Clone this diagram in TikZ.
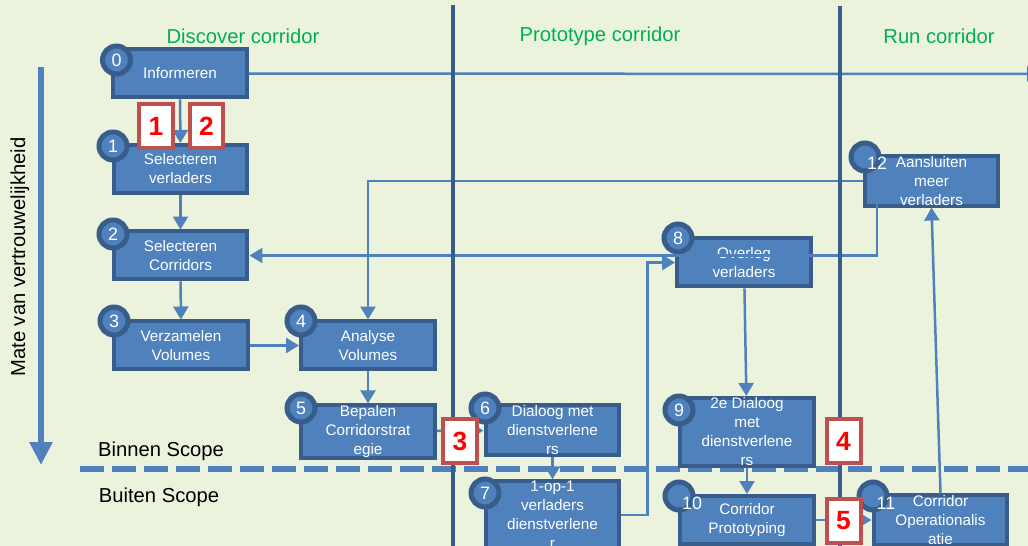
\documentclass[tikz,border=0pt]{standalone}
\usepackage{fontspec}
\setmainfont{Liberation Sans}
\usetikzlibrary{arrows.meta}

\definecolor{paper}{RGB}{235,243,220}
\definecolor{boxblue}{RGB}{79,129,189}
\definecolor{boxedge}{RGB}{56,93,138}
\definecolor{phasegreen}{RGB}{0,176,80}
\definecolor{flagred}{RGB}{192,80,77}

\tikzstyle{task} = [rectangle,fill=boxblue,draw=boxedge,line width=0.08cm,minimum width=2.68cm,minimum height=0.96cm,inner sep=0pt,text=white,align=center,font=\fontsize{8.7}{10.8}\selectfont]
\tikzstyle{badge} = [circle,fill=boxblue,draw=boxedge,line width=0.1cm,minimum size=0.56cm,inner sep=0pt,text=white,font=\fontsize{10.2}{12}\selectfont]
\tikzstyle{badgenum} = [inner sep=0pt,text=white,font=\fontsize{10.2}{12}\selectfont]
\tikzstyle{flag} = [rectangle,fill=white,draw=flagred,line width=0.08cm,minimum width=0.68cm,minimum height=0.88cm,inner sep=0pt,text=red,font=\fontsize{15}{15}\selectfont\bfseries]
\tikzstyle{flow} = [draw=boxblue,line width=0.05cm,-{Triangle[width=0.3cm,length=0.26cm]}]
\tikzstyle{phase} = [text=phasegreen,font=\fontsize{11.5}{14}\selectfont]
\tikzstyle{plain} = [font=\fontsize{11.5}{14}\selectfont]
\tikzstyle{divider} = [draw=boxedge,line width=0.09cm]

\begin{document}
\begin{tikzpicture}[x=0.02cm,y=-0.02cm]
	\useasboundingbox (0,0) rectangle (1028,546);
	\clip (0,0) rectangle (1028,546);
	\fill[paper] (0,0) rectangle (1028,546);
	% trust axis
	\coordinate (axtop) at (41,67);
	\coordinate (axbot) at (41,465);
	\draw[boxblue,line width=0.14cm,-{Triangle[width=0.44cm,length=0.46cm]}] (axtop) -- (axbot);
	\node[plain,rotate=90] (axis) at (20,257) {Mate van vertrouwelijkheid};
	% scope line
	\coordinate (scl) at (80,469);
	\coordinate (scr) at (1028,469);
	\draw[boxblue,line width=0.12cm,dash pattern=on 0.48cm off 0.16cm] (scl) -- (scr);
	\node[plain] (inside) at (161,451) {Binnen Scope};
	\node[plain] (outside) at (159,497) {Buiten Scope};
	% steps
	\node[task] (s0) at (180,73.5) {Informeren};
	\node[task] (s1) at (180.5,169) {Selecteren\\verladers};
	\node[task] (s2) at (180.5,255.5) {Selecteren\\Corridors};
	\node[task] (s3) at (181,345.5) {Verzamelen\\Volumes};
	\node[task] (s4) at (368,345.5) {Analyse\\Volumes};
	\node[task] (s5) at (368,431.5) {Bepalen\\Corridorstrat\\egie};
	\node[task] (s6) at (552.5,430) {Dialoog met\\dienstverlene\\rs};
	\node[task] (s7) at (552.5,515) {1-op-1\\verladers\\dienstverlene\\r};
	\node[task] (s8) at (744,262.5) {Overleg\\verladers};
	\node[task] (s9) at (747,432) {2e Dialoog\\met\\dienstverlene\\rs};
	\node[task] (s10) at (747,520) {Corridor\\Prototyping};
	\node[task] (s11) at (940.5,520) {Corridor\\Operationalis\\atie};
	\node[task] (s12) at (931.5,181) {Aansluiten\\meer\\verladers};
	% numbers
	\node[badge] (c0) at (116.5,60) {0};
	\node[badge] (c1) at (113,146) {1};
	\node[badge] (c2) at (113,234) {2};
	\node[badge] (c3) at (114,321) {3};
	\node[badge] (c4) at (301,321) {4};
	\node[badge] (c5) at (301,408) {5};
	\node[badge] (c6) at (485,408) {6};
	\node[badge] (c7) at (485,493) {7};
	\node[badge] (c8) at (678,238) {8};
	\node[badge] (c9) at (679,410) {9};
	\node[badge] (c10) at (679,496) {};
	\node[badge] (c11) at (873,496) {};
	\node[badge] (c12) at (865,157) {};
	\node[badgenum] (t10) at (692,503) {10};
	\node[badgenum] (t11) at (886,503) {11};
	\node[badgenum] (t12) at (877,163) {12};
	% connectors
	\coordinate (out) at (1040,74);
	\coordinate (k12) at (877,183);
	\draw[flow] (s0) -- (out);
	\draw[flow] (s0) -- (s1);
	\draw[flow] (s1) -- (s2);
	\draw[flow] (s2) -- (s3);
	\draw[flow] (s3) -- (s4);
	\draw[flow] (s4) -- (s5);
	\draw[flow] (s5) -- (s6);
	\draw[flow] (s6) -- (s7);
	\draw[flow] (s7.east) -- ++(26,0) |- (s8.west);
	\draw[flow] (s8) -- (s9);
	\draw[flow] (s9) -- (s10);
	\draw[flow] (s10) -- (s11);
	\draw[flow] (s11.north) -- (s12.south);
	\draw[flow] (s12.west) -| (s4.north);
	\draw[flow] (k12) |- (s2.east);
	% corridor borders
	\coordinate (d1t) at (453,5);
	\coordinate (d1b) at (453,546);
	\coordinate (d2t) at (840,6);
	\coordinate (d2b) at (840,546);
	\draw[divider] (d1t) -- (d1b);
	\draw[divider] (d2t) -- (d2b);
	\node[phase] (p1) at (243,36) {Discover corridor};
	\node[phase] (p2) at (600,36) {Prototype corridor};
	\node[phase] (p3) at (939,36) {Run corridor};
	% markers
	\node[flag] (m1) at (156,126.5) {1};
	\node[flag] (m2) at (206.5,126.5) {2};
	\node[flag] (m3) at (460,441) {3};
	\node[flag] (m4) at (843.5,441) {4};
	\node[flag] (m5) at (843.5,521) {5};
\end{tikzpicture}
\end{document}
